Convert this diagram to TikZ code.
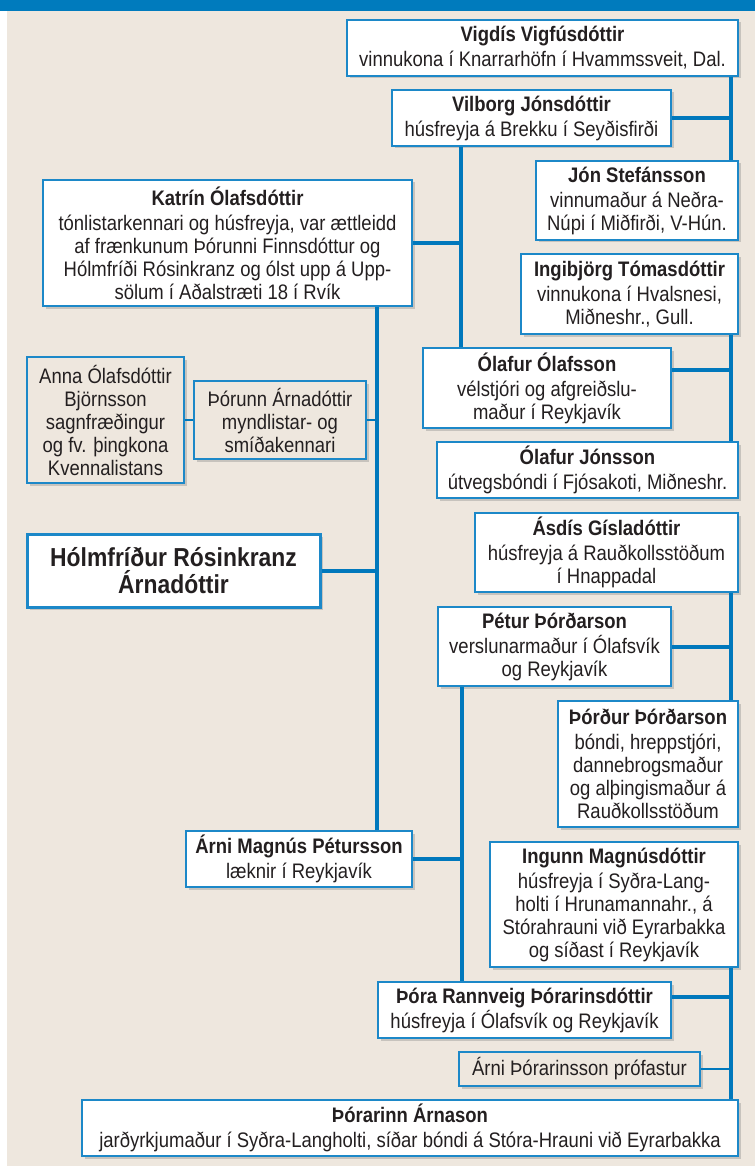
\documentclass[tikz,border=0pt]{standalone}
\usepackage{fontspec}
\setmainfont{Liberation Sans}[FakeStretch=0.88]
\usetikzlibrary{shadows}
\definecolor{bg}{RGB}{238,231,222}
\definecolor{bar}{RGB}{0,123,189}
\definecolor{bx}{RGB}{28,136,200}
\definecolor{ln}{RGB}{0,120,188}
\definecolor{txt}{RGB}{35,31,32}
\newcommand\nm[1]{{\bfseries #1}\\[2pt]}
\begin{document}
\begin{tikzpicture}[x=1pt,y=-1pt,
  pbox/.style={draw=bx, line width=1.5pt, fill=white, align=center, inner sep=0pt,
    text=txt, font=\fontsize{21}{23}\selectfont,
    drop shadow={shadow xshift=2.5pt, shadow yshift=-2.5pt, opacity=0.35}},
  minorbox/.style={pbox, fill=bg, line width=1.2pt},
  mainbox/.style={pbox, line width=3pt, font=\fontsize{26}{27}\selectfont\bfseries},
  conn/.style={draw=ln, line width=4pt},
  thin/.style={draw=ln, line width=1.4pt}]
\useasboundingbox (0,0) rectangle (755,1166);
\fill[white] (0,0) rectangle (755,1166);
\fill[bg] (7,11) rectangle (755,1166);
\fill[bar] (0,0) rectangle (755,11);
% trunk coordinates
\coordinate (tR) at (731,0);
\coordinate (tA) at (461,0);
\coordinate (tK) at (377,0);
\coordinate (tP) at (462,0);
% boxes
\node[pbox, minimum width=391, minimum height=56] (vigdis) at (542.5,48) {\nm{Vigdís Vigfúsdóttir}vinnukona í Knarrarhöfn í Hvammssveit, Dal.};
\node[pbox, minimum width=279, minimum height=56] (vilborg) at (531.5,118) {\nm{Vilborg Jónsdóttir}húsfreyja á Brekku í Seyðisfirði};
\node[pbox, minimum width=202, minimum height=79] (jon) at (637,200.5) {\nm{Jón Stefánsson}vinnumaður á Neðra-\\Núpi í Miðfirði, V-Hún.};
\node[pbox, minimum width=217, minimum height=80] (ingib) at (629.5,294) {\nm{Ingibjörg Tómasdóttir}vinnukona í Hvalsnesi,\\Miðneshr., Gull.};
\node[pbox, minimum width=248, minimum height=80] (olafO) at (547,388) {\nm{Ólafur Ólafsson}vélstjóri og afgreiðslu-\\maður í Reykjavík};
\node[pbox, minimum width=301, minimum height=56] (olafJ) at (587.5,470) {\nm{Ólafur Jónsson}útvegsbóndi í Fjósakoti, Miðneshr.};
\node[pbox, minimum width=369, minimum height=126] (katrin) at (227.5,243) {\nm{Katrín Ólafsdóttir}tónlistarkennari og húsfreyja, var ættleidd\\af frænkunum Þórunni Finnsdóttur og\\Hólmfríði Rósinkranz og ólst upp á Upp-\\sölum í Aðalstræti 18 í Rvík};
\node[minorbox, minimum width=157, minimum height=126] (anna) at (105.5,420) {Anna Ólafsdóttir\\Björnsson\\sagnfræðingur\\og fv. þingkona\\Kvennalistans};
\node[minorbox, minimum width=172, minimum height=78] (thorunn) at (280,420) {Þórunn Árnadóttir\\myndlistar- og\\smíðakennari};
\node[mainbox, minimum width=293, minimum height=73] (holm) at (173.5,570.5) {Hólmfríður Rósinkranz\\Árnadóttir};
\node[pbox, minimum width=263, minimum height=79] (asdis) at (606.5,552.5) {\nm{Ásdís Gísladóttir}húsfreyja á Rauðkollsstöðum\\í Hnappadal};
\node[pbox, minimum width=233, minimum height=79] (petur) at (554.5,646.5) {\nm{Pétur Þórðarson}verslunarmaður í Ólafsvík\\og Reykjavík};
\node[pbox, minimum width=180, minimum height=126] (thordur) at (648,764) {\nm{Þórður Þórðarson}bóndi, hreppstjóri,\\dannebrogsmaður\\og alþingismaður á\\Rauðkollsstöðum};
\node[pbox, minimum width=226, minimum height=56] (arniM) at (299,859) {\nm{Árni Magnús Pétursson}læknir í Reykjavík};
\node[pbox, minimum width=248, minimum height=125] (ingunn) at (614,904.5) {\nm{Ingunn Magnúsdóttir}húsfreyja í Syðra-Lang-\\holti í Hrunamannahr., á\\Stórahrauni við Eyrarbakka\\og síðast í Reykjavík};
\node[pbox, minimum width=293, minimum height=56] (thora) at (524.5,1010) {\nm{Þóra Rannveig Þórarinsdóttir}húsfreyja í Ólafsvík og Reykjavík};
\node[minorbox, minimum width=241, minimum height=34] (arniTh) at (579.5,1069) {Árni Þórarinsson prófastur};
\node[pbox, minimum width=656, minimum height=56] (thorarinn) at (410,1128) {\nm{Þórarinn Árnason}jarðyrkjumaður í Syðra-Langholti, síðar bóndi á Stóra-Hrauni við Eyrarbakka};
% connectors
\draw[conn] (vigdis.south -| tR) -- (jon.north -| tR);
\draw[conn] (vilborg.east) -- (vilborg.east -| tR);
\draw[conn] (vilborg.south -| tA) -- (olafO.north -| tA);
\draw[conn] (katrin.east) -- (katrin.east -| tA);
\draw[conn] (ingib.south -| tR) -- (olafJ.north -| tR);
\draw[conn] ([yshift=18pt]olafO.east) -- ([yshift=18pt]olafO.east -| tR);
\draw[conn] (katrin.south -| tK) -- (arniM.north -| tK);
\draw[conn] (holm.east) -- (holm.east -| tK);
\draw[thin] (thorunn.east) -- (thorunn.east -| tK);
\draw[thin] (anna.east) -- (thorunn.west);
\draw[conn] (asdis.south -| tR) -- (thordur.north -| tR);
\draw[conn] (petur.east) -- (petur.east -| tR);
\draw[conn] (petur.south -| tP) -- (thora.north -| tP);
\draw[conn] (arniM.east) -- (arniM.east -| tP);
\draw[conn] (ingunn.south -| tR) -- (thorarinn.north -| tR);
\draw[conn] ([yshift=13pt]thora.east) -- ([yshift=13pt]thora.east -| tR);
\draw[thin] (arniTh.east) -- (arniTh.east -| tR);
\end{tikzpicture}
\end{document}
